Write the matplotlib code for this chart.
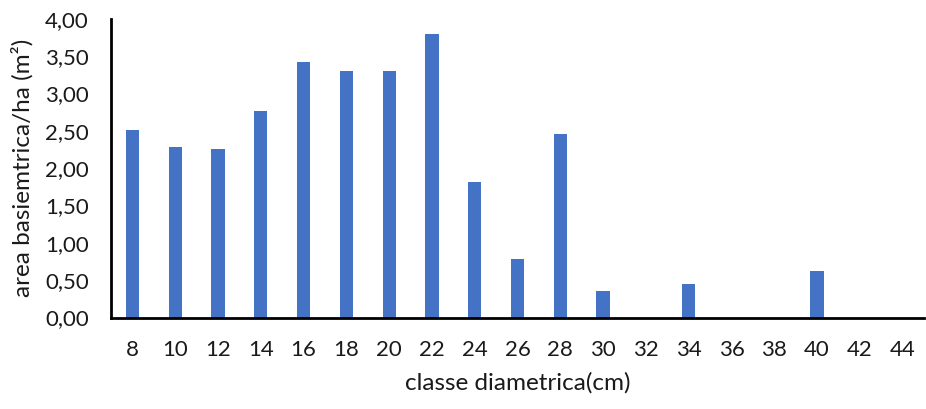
import matplotlib
matplotlib.use("Agg")
import matplotlib.pyplot as plt
import numpy as np

# Basal area per hectare by diameter class
classes = ["8", "10", "12", "14", "16", "18", "20", "22", "24", "26",
           "28", "30", "32", "34", "36", "38", "40", "42", "44"]
area_ha = [2.51, 2.28, 2.26, 2.77, 3.42, 3.30, 3.30, 3.80, 1.81, 0.79,
           2.46, 0.35, 0.0, 0.45, 0.0, 0.0, 0.62, 0.0, 0.0]
y_ticks = [0.0, 0.5, 1.0, 1.5, 2.0, 2.5, 3.0, 3.5, 4.0]

plt.rcParams["font.family"] = ["Lato", "DejaVu Sans"]

fig = plt.figure(figsize=(9.26, 4.09), dpi=100)
ax = fig.add_axes([0.1199, 0.2237, 0.878, 0.730])

x = np.arange(len(classes))
ax.bar(x, area_ha, width=0.31, color="#4472C4", zorder=2)

ax.set_xlim(-0.5, len(classes) - 0.5)
ax.set_ylim(0, 4.0)
ax.set_xticks(x)
ax.set_xticklabels(classes)
ax.set_yticks(y_ticks)
ax.set_yticklabels([f"{v:.2f}".replace(".", ",") for v in y_ticks])

ax.tick_params(axis="both", length=0, labelsize=16, colors="#1a1a1a")
ax.tick_params(axis="x", pad=16)
ax.tick_params(axis="y", pad=16)

for side in ("top", "right"):
    ax.spines[side].set_visible(False)
for side in ("left", "bottom"):
    ax.spines[side].set_linewidth(2.0)
    ax.spines[side].set_color("black")

ax.set_xlabel("classe diametrica(cm)", fontsize=17.5, color="#1a1a1a", labelpad=9)
ax.set_ylabel("area basiemtrica/ha (m²)", fontsize=17.5, color="#1a1a1a", labelpad=8)

fig.savefig("out.png", dpi=100, facecolor="white")
